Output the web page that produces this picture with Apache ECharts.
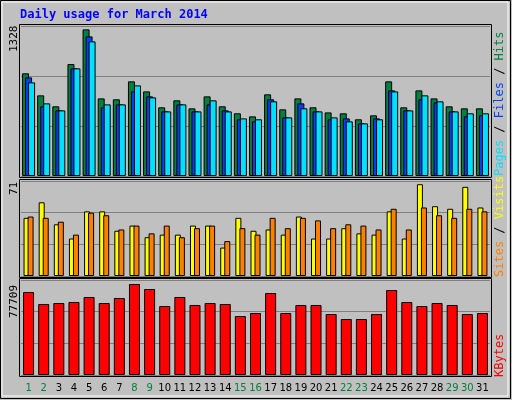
<!DOCTYPE html><html><head><meta charset="utf-8">
<script src="https://cdn.jsdelivr.net/npm/echarts@6/dist/echarts.min.js"></script>
<style>html,body{margin:0;padding:0;background:#c0c0c0}#c{width:512px;height:400px}</style></head><body><div id="c"></div>
<script>
const days = Array.from({length:31},(_,i)=>String(i+1));
const weekend = ['1','2','8','9','15','16','22','23','29','30'];
const hits = [909,714,617,991,1298,687,679,838,749,608,670,599,705,617,555,528,723,590,687,608,563,555,502,537,838,608,758,687,617,599,599];
const files = [873,617,581,953,1236,608,634,749,705,572,634,572,634,581,502,484,679,519,643,572,502,510,466,510,758,581,679,652,572,528,537];
const pages = [829,643,581,953,1192,634,634,802,696,572,634,572,670,572,510,502,661,519,599,572,519,484,466,502,749,581,714,661,572,555,555];
const visits = [45,57,40,29,50,50,35,39,30,32,32,39,39,22,45,35,36,32,46,29,29,37,33,32,50,29,71,54,52,69,53];
const sites = [46,45,42,32,49,47,36,39,33,39,30,37,39,27,37,32,45,37,45,43,37,40,39,36,52,36,53,47,45,52,50];
const kbytes = [70870,60620,61470,62330,66600,61470,65740,77709,73430,58910,66600,59770,61470,60620,50370,52940,70010,52940,59770,59770,52080,47810,47810,52080,72570,62330,58910,61470,59770,52080,52940];
const maxLabels = ['1328','71','77709'];

const grids=[{left:21,width:469,top:26,height:150},{left:21,width:469,top:181,height:95},{left:21,width:469,top:280,height:95}];
const axMax=[1328,73.5,81110];
const xAxis=grids.map((g,i)=>({type:'category',gridIndex:i,data:days,axisTick:{show:false},
  axisLine:{show:false},axisLabel:i==2?{show:true,interval:0,fontFamily:'DejaVu Sans',fontSize:10,margin:8,
  color:(v)=>weekend.includes(v)?'#008040':'#000'}:{show:false}}));
const yAxis=grids.map((g,i)=>({type:'value',gridIndex:i,min:0,max:axMax[i],interval:axMax[i]/3,
  axisLabel:{show:false},axisLine:{show:false},axisTick:{show:false},splitLine:{lineStyle:{color:'#808080',width:1}}}));
const bs=(name,data,color,xi,w,gap)=>({type:'bar',name,data,xAxisIndex:xi,yAxisIndex:xi,barWidth:w,barGap:gap,
  itemStyle:{color,borderColor:'#000',borderWidth:1},silent:true,animation:false});
const txt=(x,y,t,color,rot)=>({type:'text',x,y,rotation:rot||0,style:{text:t,fill:color,font:'11px "DejaVu Sans Mono"'}});
const chart=echarts.init(document.getElementById('c'));
chart.setOption({animation:false,backgroundColor:'#c0c0c0',grid:grids,xAxis,yAxis,
 series:[bs('Hits',hits,'#008040',0,7,'-57%'),bs('Files',files,'#0040ff',0,7,'-57%'),bs('Pages',pages,'#00e0ff',0,7,'-57%'),
   bs('Visits',visits,'#ffff00',1,6,'-33%'),bs('Sites',sites,'#ff8000',1,6,'-33%'),bs('KBytes',kbytes,'#ff0000',2,11,'0%')],
 graphic:[
  {type:'rect',shape:{x:0.5,y:0.5,width:510,height:398},style:{fill:'none',stroke:'#000'},z:-1},
  {type:'rect',shape:{x:2,y:2,width:506,height:394},style:{fill:'none',stroke:'#fff'},z:-1},
  ...grids.map(g=>({type:'rect',shape:{x:g.left-1.5,y:g.top-1.5,width:g.width+3,height:g.height+3},style:{fill:'none',stroke:'#000'},z:-1})),
  {type:'text',x:20,y:9,style:{text:'Daily usage for March 2014',fill:'#0000ff',font:'bold 12px "DejaVu Sans Mono"'}},
  txt(9,52,maxLabels[0],'#000',Math.PI/2),
  txt(9,195,maxLabels[1],'#000',Math.PI/2),
  txt(9,318,maxLabels[2],'#000',Math.PI/2),
  {type:'text',x:494,y:176,rotation:Math.PI/2,style:{rich:{p:{fill:'#00e0ff'},f:{fill:'#0040ff'},h:{fill:'#008040'},s:{fill:'#000'}},
     text:'{p|Pages}{s| / }{f|Files}{s| / }{h|Hits}',font:'12px "DejaVu Sans Mono"'}},
  {type:'text',x:494,y:277,rotation:Math.PI/2,style:{rich:{a:{fill:'#ff8000'},b:{fill:'#ffff00'},s:{fill:'#000'}},
     text:'{a|Sites}{s| / }{b|Visits}',font:'12px "DejaVu Sans Mono"'}},
  {type:'text',x:494,y:377,rotation:Math.PI/2,style:{text:'KBytes',fill:'#ff0000',font:'12px "DejaVu Sans Mono"'}}
 ]});
</script></body></html>
